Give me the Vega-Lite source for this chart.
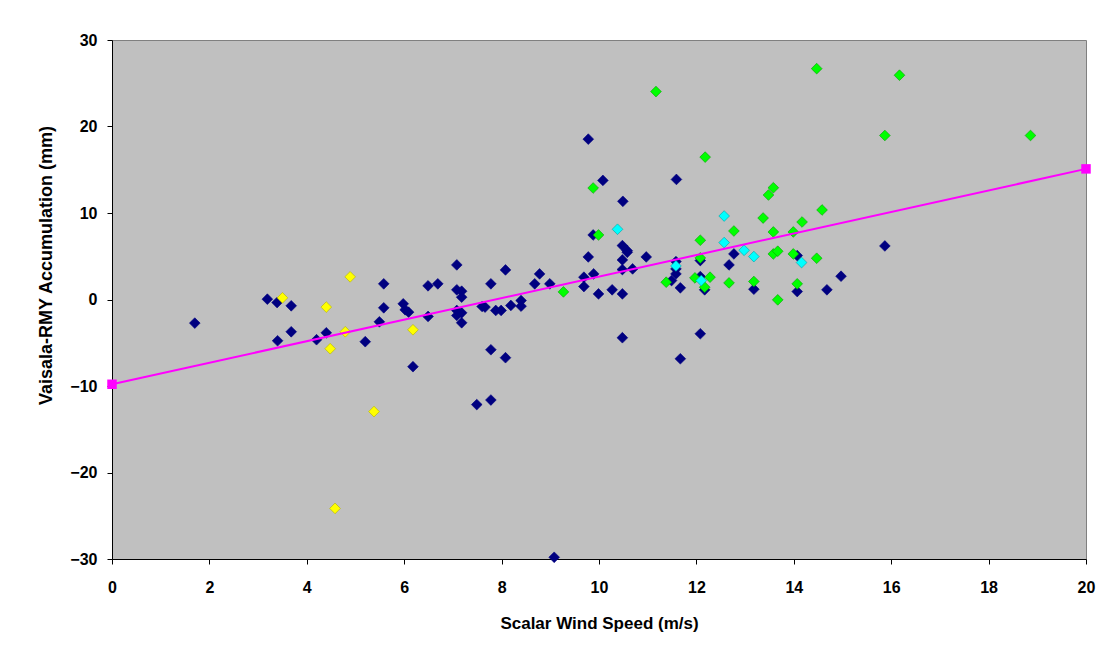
{
  "$schema": "https://vega.github.io/schema/vega-lite/v6.json",
  "autosize": {"type": "none"},
  "width": 974,
  "height": 519,
  "padding": {"left": 112, "top": 40, "right": 30, "bottom": 95},
  "background": "#ffffff",
  "config": {
    "view": {"fill": "#c0c0c0", "stroke": "#808080", "strokeWidth": 1},
    "font": "Liberation Sans Narrow, Arial Narrow, Liberation Sans, Arial, sans-serif",
    "axis": {
      "grid": false,
      "domainColor": "#000000",
      "domainWidth": 1,
      "tickColor": "#000000",
      "tickSize": 5,
      "labelFont": "Liberation Sans Narrow, Arial Narrow, Liberation Sans, Arial, sans-serif",
      "labelFontWeight": "bold",
      "labelFontSize": 16,
      "labelColor": "#000000",
      "titleFont": "Liberation Sans Narrow, Arial Narrow, Liberation Sans, Arial, sans-serif",
      "titleFontWeight": "bold",
      "titleFontSize": 17,
      "titleColor": "#000000"
    }
  },
  "datasets": {
    "obs": [
      {"speed": 1.70, "diff": -2.73, "group": "A"},
      {"speed": 3.19, "diff": 0.04, "group": "A"},
      {"speed": 3.39, "diff": -0.35, "group": "A"},
      {"speed": 3.68, "diff": -0.73, "group": "A"},
      {"speed": 3.40, "diff": -4.77, "group": "A"},
      {"speed": 3.68, "diff": -3.73, "group": "A"},
      {"speed": 4.20, "diff": -4.65, "group": "A"},
      {"speed": 4.40, "diff": -3.85, "group": "A"},
      {"speed": 5.20, "diff": -4.88, "group": "A"},
      {"speed": 5.58, "diff": 1.81, "group": "A"},
      {"speed": 5.58, "diff": -0.96, "group": "A"},
      {"speed": 5.49, "diff": -2.58, "group": "A"},
      {"speed": 5.98, "diff": -0.50, "group": "A"},
      {"speed": 6.02, "diff": -1.19, "group": "A"},
      {"speed": 6.09, "diff": -1.46, "group": "A"},
      {"speed": 6.18, "diff": -7.77, "group": "A"},
      {"speed": 6.49, "diff": -1.96, "group": "A"},
      {"speed": 6.49, "diff": 1.58, "group": "A"},
      {"speed": 6.69, "diff": 1.81, "group": "A"},
      {"speed": 7.08, "diff": 4.00, "group": "A"},
      {"speed": 7.08, "diff": 1.12, "group": "A"},
      {"speed": 7.18, "diff": 0.96, "group": "A"},
      {"speed": 7.18, "diff": 0.27, "group": "A"},
      {"speed": 7.08, "diff": -1.27, "group": "A"},
      {"speed": 7.08, "diff": -1.85, "group": "A"},
      {"speed": 7.18, "diff": -1.54, "group": "A"},
      {"speed": 7.18, "diff": -2.69, "group": "A"},
      {"speed": 7.78, "diff": 1.81, "group": "A"},
      {"speed": 7.60, "diff": -0.81, "group": "A"},
      {"speed": 7.66, "diff": -0.88, "group": "A"},
      {"speed": 7.88, "diff": -1.27, "group": "A"},
      {"speed": 7.99, "diff": -1.27, "group": "A"},
      {"speed": 7.78, "diff": -5.81, "group": "A"},
      {"speed": 8.08, "diff": -6.73, "group": "A"},
      {"speed": 8.08, "diff": 3.42, "group": "A"},
      {"speed": 7.49, "diff": -12.15, "group": "A"},
      {"speed": 7.78, "diff": -11.62, "group": "A"},
      {"speed": 8.19, "diff": -0.69, "group": "A"},
      {"speed": 8.40, "diff": -0.12, "group": "A"},
      {"speed": 8.40, "diff": -0.77, "group": "A"},
      {"speed": 8.68, "diff": 1.81, "group": "A"},
      {"speed": 8.78, "diff": 2.96, "group": "A"},
      {"speed": 8.99, "diff": 1.81, "group": "A"},
      {"speed": 9.08, "diff": -29.8, "group": "A"},
      {"speed": 9.69, "diff": 2.58, "group": "A"},
      {"speed": 9.69, "diff": 1.50, "group": "A"},
      {"speed": 9.89, "diff": 2.96, "group": "A"},
      {"speed": 9.78, "diff": 4.92, "group": "A"},
      {"speed": 9.99, "diff": 0.65, "group": "A"},
      {"speed": 10.27, "diff": 1.12, "group": "A"},
      {"speed": 10.48, "diff": 0.65, "group": "A"},
      {"speed": 10.48, "diff": -4.42, "group": "A"},
      {"speed": 10.48, "diff": 4.58, "group": "A"},
      {"speed": 10.48, "diff": 3.46, "group": "A"},
      {"speed": 10.58, "diff": 5.46, "group": "A"},
      {"speed": 10.69, "diff": 3.54, "group": "A"},
      {"speed": 10.97, "diff": 4.92, "group": "A"},
      {"speed": 11.49, "diff": 2.19, "group": "A"},
      {"speed": 11.58, "diff": 2.96, "group": "A"},
      {"speed": 11.58, "diff": 3.54, "group": "A"},
      {"speed": 11.58, "diff": 4.38, "group": "A"},
      {"speed": 11.67, "diff": 1.35, "group": "A"},
      {"speed": 11.67, "diff": -6.85, "group": "A"},
      {"speed": 12.08, "diff": 4.50, "group": "A"},
      {"speed": 12.08, "diff": 2.65, "group": "A"},
      {"speed": 12.17, "diff": 1.12, "group": "A"},
      {"speed": 12.08, "diff": -3.96, "group": "A"},
      {"speed": 9.78, "diff": 18.54, "group": "A"},
      {"speed": 11.59, "diff": 13.88, "group": "A"},
      {"speed": 10.08, "diff": 13.77, "group": "A"},
      {"speed": 10.49, "diff": 11.35, "group": "A"},
      {"speed": 9.88, "diff": 7.46, "group": "A"},
      {"speed": 10.48, "diff": 6.23, "group": "A"},
      {"speed": 10.58, "diff": 5.65, "group": "A"},
      {"speed": 12.77, "diff": 5.27, "group": "A"},
      {"speed": 14.07, "diff": 5.08, "group": "A"},
      {"speed": 12.67, "diff": 4.00, "group": "A"},
      {"speed": 15.87, "diff": 6.19, "group": "A"},
      {"speed": 14.97, "diff": 2.69, "group": "A"},
      {"speed": 13.18, "diff": 1.19, "group": "A"},
      {"speed": 14.07, "diff": 0.92, "group": "A"},
      {"speed": 14.68, "diff": 1.12, "group": "A"},
      {"speed": 3.50, "diff": 0.19, "group": "B"},
      {"speed": 4.40, "diff": -0.88, "group": "B"},
      {"speed": 4.48, "diff": -5.69, "group": "B"},
      {"speed": 4.79, "diff": -3.73, "group": "B"},
      {"speed": 4.89, "diff": 2.62, "group": "B"},
      {"speed": 5.38, "diff": -12.96, "group": "B"},
      {"speed": 4.58, "diff": -24.15, "group": "B"},
      {"speed": 6.18, "diff": -3.50, "group": "B"},
      {"speed": 9.27, "diff": 0.88, "group": "C"},
      {"speed": 11.38, "diff": 2.00, "group": "C"},
      {"speed": 11.97, "diff": 2.50, "group": "C"},
      {"speed": 12.08, "diff": 4.81, "group": "C"},
      {"speed": 12.28, "diff": 2.58, "group": "C"},
      {"speed": 12.17, "diff": 1.42, "group": "C"},
      {"speed": 11.17, "diff": 24.04, "group": "C"},
      {"speed": 12.18, "diff": 16.46, "group": "C"},
      {"speed": 9.88, "diff": 12.89, "group": "C"},
      {"speed": 9.99, "diff": 7.46, "group": "C"},
      {"speed": 12.08, "diff": 6.85, "group": "C"},
      {"speed": 14.47, "diff": 26.69, "group": "C"},
      {"speed": 16.17, "diff": 25.93, "group": "C"},
      {"speed": 15.87, "diff": 18.96, "group": "C"},
      {"speed": 18.86, "diff": 18.96, "group": "C"},
      {"speed": 13.58, "diff": 12.92, "group": "C"},
      {"speed": 13.48, "diff": 12.08, "group": "C"},
      {"speed": 14.58, "diff": 10.35, "group": "C"},
      {"speed": 13.37, "diff": 9.42, "group": "C"},
      {"speed": 14.17, "diff": 8.96, "group": "C"},
      {"speed": 12.77, "diff": 7.92, "group": "C"},
      {"speed": 13.58, "diff": 7.81, "group": "C"},
      {"speed": 13.99, "diff": 7.81, "group": "C"},
      {"speed": 13.58, "diff": 5.27, "group": "C"},
      {"speed": 13.67, "diff": 5.58, "group": "C"},
      {"speed": 13.99, "diff": 5.27, "group": "C"},
      {"speed": 14.47, "diff": 4.77, "group": "C"},
      {"speed": 12.67, "diff": 1.92, "group": "C"},
      {"speed": 13.18, "diff": 2.08, "group": "C"},
      {"speed": 14.07, "diff": 1.81, "group": "C"},
      {"speed": 13.67, "diff": -0.04, "group": "C"},
      {"speed": 11.58, "diff": 3.88, "group": "D"},
      {"speed": 12.10, "diff": 2.19, "group": "D"},
      {"speed": 10.38, "diff": 8.12, "group": "D"},
      {"speed": 12.57, "diff": 9.65, "group": "D"},
      {"speed": 12.57, "diff": 6.58, "group": "D"},
      {"speed": 12.98, "diff": 5.69, "group": "D"},
      {"speed": 13.18, "diff": 4.96, "group": "D"},
      {"speed": 14.16, "diff": 4.27, "group": "D"}
    ],
    "fit": [
      {"speed": 0, "diff": -9.8},
      {"speed": 20, "diff": 15.1}
    ]
  },
  "layer": [
    {
      "data": {"name": "obs"},
      "mark": {"type": "point", "shape": "diamond", "filled": true, "size": 115, "opacity": 1, "strokeWidth": 0.6},
      "encoding": {
        "x": {
          "field": "speed", "type": "quantitative",
          "scale": {"domain": [0, 20], "nice": false, "zero": false},
          "axis": {"values": [0, 2, 4, 6, 8, 10, 12, 14, 16, 18, 20], "title": "Scalar Wind Speed (m/s)", "labelPadding": 15, "titlePadding": 20, "labelFlush": false}
        },
        "y": {
          "field": "diff", "type": "quantitative",
          "scale": {"domain": [-30, 30], "nice": false, "zero": false},
          "axis": {"values": [-30, -20, -10, 0, 10, 20, 30], "title": "Vaisala-RMY Accumulation (mm)", "labelPadding": 10, "titlePadding": 14, "titleFontSize": 18, "titleY": 225, "labelFlush": false}
        },
        "fill": {
          "field": "group", "type": "nominal",
          "scale": {"domain": ["A", "B", "C", "D"], "range": ["#000080", "#ffff00", "#00ff00", "#00ffff"]},
          "legend": null
        },
        "stroke": {
          "field": "group", "type": "nominal",
          "scale": {"domain": ["A", "B", "C", "D"], "range": ["#000080", "#b0b000", "#00a000", "#00a0a0"]},
          "legend": null
        }
      }
    },
    {
      "data": {"name": "fit"},
      "mark": {"type": "line", "color": "#ff00ff", "strokeWidth": 2, "clip": false,
               "point": {"shape": "square", "size": 90, "filled": true, "color": "#ff00ff", "opacity": 1}},
      "encoding": {
        "x": {"field": "speed", "type": "quantitative"},
        "y": {"field": "diff", "type": "quantitative"}
      }
    }
  ]
}
